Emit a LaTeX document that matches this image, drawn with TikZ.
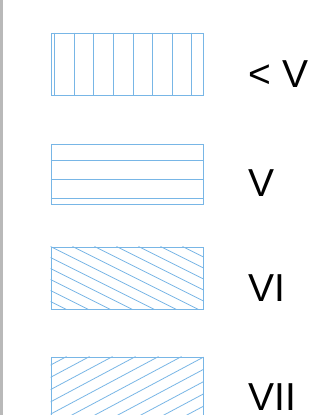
\documentclass[tikz,border=0pt]{standalone}
\usepackage{fontspec}
\setmainfont{Liberation Sans}
\usetikzlibrary{positioning}
\definecolor{hatchblue}{RGB}{120,182,230}
\definecolor{railgray}{RGB}{185,185,185}

\begin{document}
\begin{tikzpicture}[x=1pt, y=1pt,
    legendbox/.style={draw=hatchblue, line width=0.9pt, fill=white, minimum width=152pt, minimum height=62pt, inner sep=0pt},
    hatch/.style={draw=hatchblue, line width=0.8pt},
    tag/.style={font=\fontsize{39}{44}\selectfont, inner sep=0pt, anchor=base west}
]
\useasboundingbox (0,0) rectangle (321,415);
\draw[railgray, line width=2.5pt] (1.5,0) -- (1.5,415);
% legend boxes
\node[legendbox] (b1) at (127,351) {};
\node[legendbox, minimum height=60pt] (b2) at (127,241) {};
\node[legendbox] (b3) at (127,137) {};
\node[legendbox] (b4) at (127,27) {};
% vertical hatching
\foreach \k [evaluate=\k as \dx using 4+\k*19.6] in {0,...,7}
  \draw[hatch] ([xshift=\dx pt]b1.north west) -- ([xshift=\dx pt]b1.south west);
% horizontal hatching
\foreach \dy in {17,36,55}
  \draw[hatch] ([yshift=-\dy pt]b2.north west) -- ([yshift=-\dy pt]b2.north east);
% falling diagonals
\begin{scope}
  \clip (b3.south west) rectangle (b3.north east);
  \foreach \k [evaluate=\k as \dx using \k*22] in {-6,...,7}
    \draw[hatch] ([xshift=\dx pt]b3.north west) -- ++(300,-150);
\end{scope}
% rising diagonals
\begin{scope}
  \clip (b4.south west) rectangle (b4.north east);
  \foreach \k [evaluate=\k as \dx using 16+\k*23] in {-1,...,12}
    \draw[hatch] ([xshift=\dx pt]b4.north west) -- ++(-300,-160);
\end{scope}
% labels
\node[tag] (t1) at ([shift={(45pt,-24pt)}]b1.east) {< V};
\node[tag] (t2) at ([shift={(45pt,-23pt)}]b2.east) {V};
\node[tag] (t3) at ([shift={(45pt,-24pt)}]b3.east) {VI};
\node[tag] (t4) at ([shift={(45pt,-22pt)}]b4.east) {VII};
\end{tikzpicture}
\end{document}
